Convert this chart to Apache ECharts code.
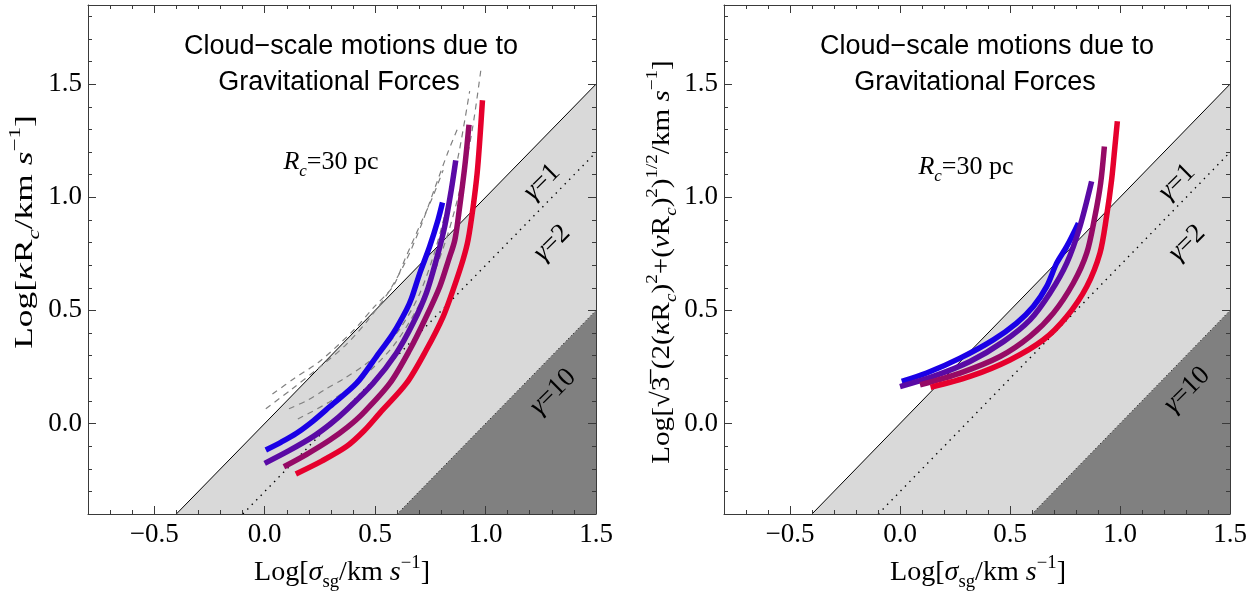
<!DOCTYPE html>
<html><head><meta charset="utf-8">
<script src="https://cdn.jsdelivr.net/npm/echarts@6/dist/echarts.min.js"></script>
<style>html,body{margin:0;padding:0;background:#fff}#c{width:1258px;height:593px}</style>
</head><body><div id="c"></div>
<script>
// ---------- data ----------
const xRange = [-0.8, 1.5];
const yRange = [-0.4, 1.85];
const xTickValues = [-0.5, 0.0, 0.5, 1.0, 1.5];
const xTickLabels = ['\u22120.5', '0.0', '0.5', '1.0', '1.5'];
const yTickValues = [0.0, 0.5, 1.0, 1.5];
const yTickLabels = ['0.0', '0.5', '1.0', '1.5'];

// gamma boundary lines (y = x - log10 gamma)
const gamma1Line = [[-0.4, -0.4], [1.5, 1.5]];
const gamma2Line = [[-0.099, -0.4], [1.5, 1.199]];
const gamma10Line = [[0.6, -0.4], [1.5, 0.5]];
const lightRegion = [[-0.4, -0.4], [1.5, 1.5], [1.5, 0.5], [0.6, -0.4]];
const darkRegion = [[0.6, -0.4], [1.5, 0.5], [1.5, -0.4]];

// left panel curves
const leftBlue = [[0.005,-0.117],[0.075,-0.082],[0.144,-0.043],[0.22,0.012],[0.295,0.075],[0.416,0.178],[0.506,0.296],[0.582,0.399],[0.642,0.503],[0.665,0.554],[0.702,0.664],[0.747,0.783],[0.785,0.901],[0.805,0.977]];
const leftPurple = [[0.0,-0.176],[0.11,-0.12],[0.219,-0.058],[0.30,0.0],[0.370,0.060],[0.491,0.178],[0.596,0.311],[0.672,0.444],[0.732,0.577],[0.777,0.724],[0.815,0.871],[0.845,1.034],[0.865,1.163]];
const leftMagenta = [[0.087,-0.191],[0.19,-0.136],[0.295,-0.073],[0.375,-0.016],[0.446,0.046],[0.567,0.178],[0.657,0.326],[0.732,0.473],[0.793,0.606],[0.833,0.724],[0.861,0.812],[0.883,0.960],[0.906,1.137],[0.925,1.321]];
const leftRed = [[0.141,-0.223],[0.26,-0.165],[0.370,-0.102],[0.45,-0.032],[0.521,0.046],[0.642,0.178],[0.732,0.326],[0.808,0.473],[0.853,0.591],[0.898,0.724],[0.921,0.812],[0.944,0.960],[0.962,1.107],[0.974,1.255],[0.986,1.429]];
// left panel dashed gray curves
const dashA = [[0.035,0.13],[0.135,0.20],[0.248,0.274],[0.40,0.41],[0.50,0.52],[0.581,0.606],[0.634,0.724],[0.70,0.87],[0.76,1.00],[0.808,1.12]];
const dashB = [[0.005,0.065],[0.12,0.15],[0.25,0.25],[0.37,0.35],[0.47,0.46],[0.56,0.58],[0.64,0.72],[0.71,0.88],[0.77,1.04],[0.83,1.20],[0.876,1.31]];
const dashC = [[0.11,0.065],[0.196,0.104],[0.271,0.149],[0.362,0.200],[0.452,0.259],[0.535,0.326],[0.62,0.43],[0.70,0.57],[0.77,0.76],[0.83,0.98],[0.88,1.20],[0.928,1.469]];
const dashD = [[0.15,0.02],[0.30,0.10],[0.45,0.21],[0.58,0.34],[0.68,0.49],[0.76,0.65],[0.83,0.84],[0.89,1.06],[0.94,1.30],[0.981,1.58]];

// right panel curves
const rightBlue = [[0.008,0.186],[0.121,0.223],[0.273,0.289],[0.424,0.370],[0.530,0.444],[0.606,0.517],[0.667,0.606],[0.712,0.709],[0.758,0.783],[0.811,0.886]];
const rightPurple = [[0.0,0.163],[0.151,0.208],[0.318,0.274],[0.470,0.362],[0.591,0.458],[0.682,0.577],[0.758,0.709],[0.818,0.871],[0.871,1.070]];
const rightMagenta = [[0.091,0.171],[0.273,0.223],[0.455,0.296],[0.591,0.385],[0.697,0.488],[0.788,0.621],[0.849,0.754],[0.886,0.916],[0.912,1.063],[0.929,1.225]];
const rightRed = [[0.139,0.160],[0.318,0.208],[0.5,0.281],[0.652,0.370],[0.758,0.473],[0.849,0.606],[0.909,0.754],[0.939,0.916],[0.962,1.078],[0.977,1.225],[0.988,1.336]];

const curveColors = ['#1a00e6', '#5a0aa5', '#960a66', '#e6002d'];

// ---------- chart ----------
const chart = echarts.init(document.getElementById('c'), null, {renderer: 'canvas', width: 1258, height: 593});
const FRAME = '#3a3a3a';
const SERIF = 'Liberation Serif';
const SANS = 'Liberation Sans';

function lookup(values, labels, v) {
  for (let i = 0; i < values.length; i++) if (Math.abs(values[i] - v) < 1e-6) return labels[i];
  return '';
}

const grids = [
  {left: 88, top: 5, width: 508, height: 509},
  {left: 724, top: 5, width: 506, height: 509}
];

const xAxes = [], yAxes = [];
grids.forEach((g, gi) => {
  const common = {gridIndex: gi, type: 'value', z: 10, splitLine: {show: false}, axisPointer: {show: false}};
  xAxes.push(Object.assign({}, common, {position: 'bottom', min: xRange[0], max: xRange[1], interval: 0.1,
    axisLine: {show: true, onZero: false, lineStyle: {color: FRAME, width: 1}},
    axisTick: {inside: true, length: 4, lineStyle: {color: FRAME, width: 1}},
    axisLabel: {margin: 7, color: '#000', fontFamily: SERIF, fontSize: 27, showMinLabel: true, showMaxLabel: true,
      formatter: v => lookup(xTickValues, xTickLabels, v)}}));
  xAxes.push(Object.assign({}, common, {position: 'bottom', min: xRange[0], max: xRange[1],
    axisLine: {show: false, onZero: false},
    axisTick: {inside: true, length: 8, customValues: xTickValues, lineStyle: {color: FRAME, width: 1}},
    axisLabel: {show: false}}));
  xAxes.push(Object.assign({}, common, {position: 'top', min: xRange[0], max: xRange[1], interval: 0.1,
    axisLine: {show: true, onZero: false, lineStyle: {color: FRAME, width: 1}},
    axisTick: {inside: true, length: 4, lineStyle: {color: FRAME, width: 1}},
    axisLabel: {show: false}}));
  xAxes.push(Object.assign({}, common, {position: 'top', min: xRange[0], max: xRange[1],
    axisLine: {show: false, onZero: false},
    axisTick: {inside: true, length: 8, customValues: xTickValues, lineStyle: {color: FRAME, width: 1}},
    axisLabel: {show: false}}));

  yAxes.push(Object.assign({}, common, {position: 'left', min: yRange[0], max: yRange[1], interval: 0.1,
    axisLine: {show: true, onZero: false, lineStyle: {color: FRAME, width: 1}},
    axisTick: {inside: true, length: 4, lineStyle: {color: FRAME, width: 1}},
    axisLabel: {margin: 6, color: '#000', fontFamily: SERIF, fontSize: 27,
      formatter: v => lookup(yTickValues, yTickLabels, v)}}));
  yAxes.push(Object.assign({}, common, {position: 'left', min: yRange[0], max: yRange[1],
    axisLine: {show: false, onZero: false},
    axisTick: {inside: true, length: 8, customValues: yTickValues, lineStyle: {color: FRAME, width: 1}},
    axisLabel: {show: false}}));
  yAxes.push(Object.assign({}, common, {position: 'right', min: yRange[0], max: yRange[1], interval: 0.1,
    axisLine: {show: true, onZero: false, lineStyle: {color: FRAME, width: 1}},
    axisTick: {inside: true, length: 4, lineStyle: {color: FRAME, width: 1}},
    axisLabel: {show: false}}));
  yAxes.push(Object.assign({}, common, {position: 'right', min: yRange[0], max: yRange[1],
    axisLine: {show: false, onZero: false},
    axisTick: {inside: true, length: 8, customValues: yTickValues, lineStyle: {color: FRAME, width: 1}},
    axisLabel: {show: false}}));
});

function polySeries(gi, pts, color, z) {
  return {type: 'custom', coordinateSystem: 'cartesian2d', xAxisIndex: gi * 4, yAxisIndex: gi * 4,
    data: [pts[0]], z: z, silent: true, animation: false,
    renderItem: (params, api) => ({type: 'polygon', shape: {points: pts.map(p => api.coord(p))},
      style: {fill: color, stroke: null}})};
}
function lineSeries(gi, data, color, width, type, z, smooth) {
  return {type: 'line', xAxisIndex: gi * 4, yAxisIndex: gi * 4, data: data, showSymbol: false, symbol: 'none',
    smooth: smooth || false,
    lineStyle: {color: color, width: width, type: type, cap: 'butt', join: 'round'}, z: z, silent: true, clip: true, animation: false};
}

const series = [];
[0, 1].forEach(gi => {
  series.push(polySeries(gi, lightRegion, '#d9d9d9', 1));
  series.push(polySeries(gi, darkRegion, '#808080', 1));
  series.push(lineSeries(gi, gamma1Line, '#000', 1, 'solid', 2));
  series.push(lineSeries(gi, gamma2Line, '#000', 1.4, [1.4, 5], 2));
  series.push(lineSeries(gi, gamma10Line, '#000', 1, [1, 2.5], 2));
});
[dashA, dashB, dashC, dashD].forEach(d => series.push(lineSeries(0, d, '#808080', 1.2, [6, 5], 3, 0.3)));
[leftBlue, leftPurple, leftMagenta, leftRed].forEach((d, i) => series.push(lineSeries(0, d, curveColors[i], 5.5, 'solid', 4, 0.3)));
[rightBlue, rightPurple, rightMagenta, rightRed].forEach((d, i) => series.push(lineSeries(1, d, curveColors[i], 5.5, 'solid', 4, 0.3)));

// ---------- text ----------
function rich(fs) {
  const s = Math.round(fs * 0.66);
  return {
    n: {fontFamily: SERIF, fontSize: fs, lineHeight: fs + 10, fill: '#000'},
    i: {fontFamily: SERIF, fontStyle: 'italic', fontSize: fs, lineHeight: fs + 10, fill: '#000'},
    sub: {fontFamily: SERIF, fontSize: s, lineHeight: s, verticalAlign: 'bottom', fill: '#000'},
    isub: {fontFamily: SERIF, fontStyle: 'italic', fontSize: s, lineHeight: s, verticalAlign: 'bottom', fill: '#000'},
    sup: {fontFamily: SERIF, fontSize: s, lineHeight: s, verticalAlign: 'top', fill: '#000'}
  };
}
function txt(x, y, text, opts) {
  opts = opts || {};
  return {type: 'text', x: x, y: y, rotation: opts.rot || 0, scaleX: opts.sx || 1, scaleY: 1, z: 20, silent: true,
    style: {text: text, rich: opts.rich, fontFamily: opts.ff || SERIF, fontSize: opts.fs || 26,
      fontStyle: opts.fst || 'normal', fill: '#000', align: 'center', verticalAlign: 'middle'}};
}

const xTitle = '{n|Log[}{i|\u03c3}{sub|sg}{n|/km }{i|s}{sup|\u22121}{n|]}';
const yTitleL = '{n|Log[}{i|\u03ba}{n|R}{isub|c}{n|/km }{i|s}{sup|\u22121}{n|]}';
const yTitleR = '{n|Log[\u221a3\u0305 (2(}{i|\u03ba}{n|R}{isub|c}{n|)}{sup|2}{n|+(}{i|\u03bd}{n|R}{isub|c}{n|)}{sup|2}{n|)}{sup|1/2}{n|/km }{i|s}{sup|\u22121}{n|]}';
const rcText = '{i|R}{isub|c}{n|=30 pc}';

const graphics = [
  txt(351, 47, 'Cloud\u2212scale motions due to', {ff: SANS, fs: 27}),
  txt(339, 83, 'Gravitational Forces', {ff: SANS, fs: 27}),
  txt(987, 47, 'Cloud\u2212scale motions due to', {ff: SANS, fs: 27}),
  txt(975, 83, 'Gravitational Forces', {ff: SANS, fs: 27}),
  txt(331, 162, rcText, {rich: rich(26)}),
  txt(966, 167, rcText, {rich: rich(26)}),
  txt(542, 182, '{i|\u03b3}{n|=1}', {rich: rich(27), rot: Math.PI / 4}),
  txt(552, 243, '{i|\u03b3}{n|=2}', {rich: rich(27), rot: Math.PI / 4}),
  txt(553, 392, '{i|\u03b3}{n|=10}', {rich: rich(27), rot: Math.PI / 4}),
  txt(1177, 182, '{i|\u03b3}{n|=1}', {rich: rich(27), rot: Math.PI / 4}),
  txt(1187, 243, '{i|\u03b3}{n|=2}', {rich: rich(27), rot: Math.PI / 4}),
  txt(1187, 390, '{i|\u03b3}{n|=10}', {rich: rich(27), rot: Math.PI / 4}),
  txt(342, 573, xTitle, {rich: rich(27), sx: 1.04}),
  txt(978, 573, xTitle, {rich: rich(27), sx: 1.04}),
  txt(25, 232, yTitleL, {rich: rich(26), rot: Math.PI / 2, sx: 1.36}),
  txt(662, 262, yTitleR, {rich: rich(26), rot: Math.PI / 2, sx: 1.12})
];

chart.setOption({
  animation: false,
  backgroundColor: '#fff',
  grid: grids.map(g => Object.assign({containLabel: false}, g)),
  xAxis: xAxes,
  yAxis: yAxes,
  series: series,
  graphic: graphics
});
</script></body></html>
